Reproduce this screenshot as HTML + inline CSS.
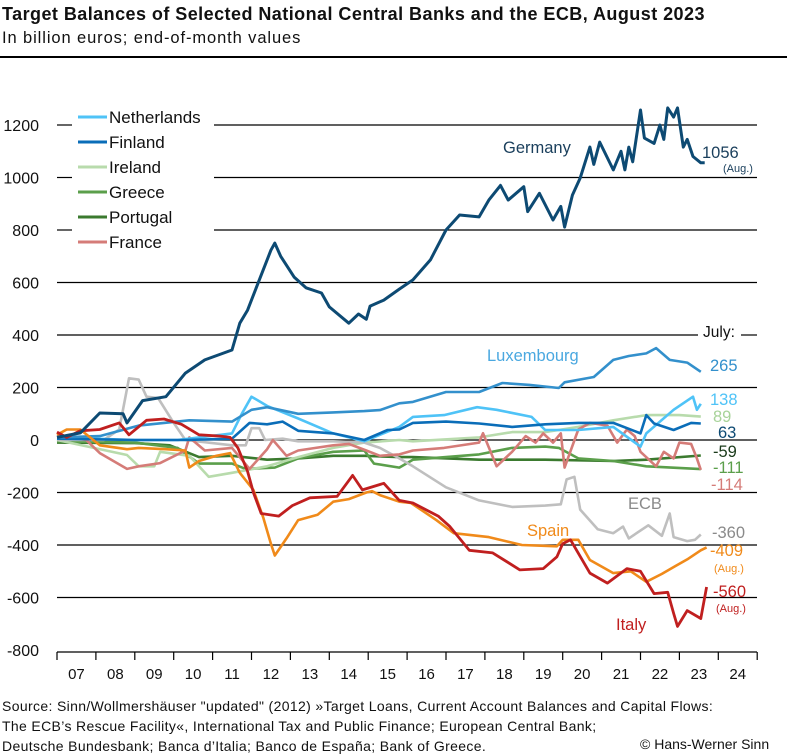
<!DOCTYPE html>
<html><head><meta charset="utf-8">
<style>
body{margin:0;background:#fff;font-family:"Liberation Sans",sans-serif;}
#wrap{position:relative;width:787px;height:756px;overflow:hidden;}
.t{position:absolute;white-space:nowrap;}
</style></head>
<body>
<div id="wrap">
<div class="t" style="left:2px;top:4px;font-size:18px;letter-spacing:0.45px;font-weight:bold;color:#111;">Target Balances of Selected National Central Banks and the ECB, August 2023</div>
<div class="t" style="left:2px;top:29px;font-size:16.5px;letter-spacing:0.9px;color:#111;">In billion euros; end-of-month values</div>
<div style="position:absolute;left:0;top:56px;width:787px;height:2px;background:#000;"></div>
<svg id="chart" width="787" height="756" style="position:absolute;left:0;top:0;" font-family="Liberation Sans, sans-serif"></svg>
<div class="t" style="left:2px;top:696px;font-size:14px;letter-spacing:0.35px;line-height:20px;color:#111;">Source: Sinn/Wollmershäuser "updated" (2012) »Target Loans, Current Account Balances and Capital Flows:<br>The ECB’s Rescue Facility«, International Tax and Public Finance; European Central Bank;<br>Deutsche Bundesbank; Banca d’Italia; Banco de España; Bank of Greece.</div>
<div class="t" style="left:640px;top:736px;font-size:14px;color:#111;">© Hans-Werner Sinn</div>
</div>
<script>
const yTicks=[1200,1000,800,600,400,200,0,-200,-400,-600,-800];
const yearLabels=["07","08","09","10","11","12","13","14","15","16","17","18","19","20","21","22","23","24"];

const germanyT=[2007.0,2007.6,2008.1,2008.7,2008.8,2009.2,2009.8,2010.3,2010.8,2011.5,2011.7,2011.9,2012.2,2012.5,2012.6,2012.75,2013.1,2013.4,2013.8,2014.0,2014.5,2014.75,2014.95,2015.05,2015.4,2015.8,2016.15,2016.6,2017.0,2017.35,2017.85,2018.1,2018.4,2018.6,2019.0,2019.1,2019.4,2019.75,2019.95,2020.05,2020.25,2020.45,2020.7,2020.8,2020.95,2021.3,2021.5,2021.6,2021.7,2021.8,2022.0,2022.1,2022.35,2022.5,2022.6,2022.7,2022.85,2022.95,2023.1,2023.2,2023.35,2023.55,2023.65];
const germanyV=[10,27,103,100,65,150,165,255,305,343,445,495,610,723,750,700,620,580,560,507,445,480,460,510,533,575,610,686,800,857,850,914,970,914,965,870,940,838,890,811,933,998,1116,1050,1135,1029,1100,1029,1116,1060,1257,1150,1130,1200,1145,1265,1230,1265,1116,1145,1080,1056,1056];

const luxT=[2007.0,2008.1,2009.1,2010.4,2011.5,2012.0,2012.4,2013.2,2014.1,2014.9,2015.3,2015.8,2016.15,2017.0,2017.85,2018.45,2019.15,2019.9,2020.05,2020.8,2021.3,2021.7,2022.15,2022.4,2022.75,2023.2,2023.55];
const luxV=[10,15,55,75,70,115,125,100,105,110,114,140,145,183,183,217,210,198,220,240,305,320,330,350,305,295,260];

const nethT=[2007.0,2009.0,2010.1,2011.5,2011.75,2012.0,2012.4,2013.2,2014.1,2014.9,2015.3,2015.8,2016.15,2016.95,2017.8,2018.3,2019.2,2019.55,2020.4,2021.3,2022.0,2022.15,2022.85,2023.35,2023.45,2023.55];
const nethV=[10,0,0,25,100,165,130,82,25,-5,20,50,88,95,125,115,88,38,38,50,-25,25,115,165,115,138];

const finT=[2007.0,2009.0,2010.3,2011.5,2011.95,2012.4,2012.8,2013.2,2014.1,2014.9,2015.5,2015.8,2016.15,2017.0,2017.85,2018.7,2019.55,2020.4,2021.3,2022.0,2022.15,2022.35,2022.85,2023.3,2023.55];
const finV=[5,0,0,5,65,60,70,35,25,0,38,40,65,70,63,50,60,65,65,25,95,63,38,65,63];

const ireT=[2007.0,2008.8,2009.1,2009.5,2009.65,2010.4,2010.9,2011.5,2012.4,2013.2,2014.1,2014.9,2015.8,2016.15,2017.85,2018.7,2019.55,2020.4,2021.3,2022.15,2023.0,2023.55];
const ireV=[0,-57,-100,-100,-45,-60,-140,-125,-100,-65,-30,-10,0,-5,10,30,30,50,75,95,95,89];

const greT=[2007.0,2009.0,2010.1,2010.65,2011.5,2011.85,2012.6,2013.2,2014.1,2014.9,2015.15,2015.8,2016.15,2017.0,2017.85,2018.7,2019.55,2019.9,2020.4,2021.3,2022.15,2023.55];
const greV=[-5,-10,-30,-90,-90,-110,-105,-70,-45,-40,-90,-105,-75,-65,-55,-30,-25,-30,-70,-80,-100,-111];

const porT=[2007.0,2009.0,2009.9,2010.65,2011.5,2012.4,2013.2,2014.1,2014.9,2015.8,2016.15,2017.85,2019.55,2021.3,2022.15,2023.55];
const porV=[-10,-12,-20,-65,-60,-75,-70,-60,-60,-65,-65,-75,-75,-80,-75,-59];

const fraT=[2007.0,2007.75,2008.1,2008.8,2009.1,2009.65,2010.3,2010.4,2010.8,2011.5,2011.95,2012.4,2012.55,2012.9,2013.2,2013.65,2014.1,2014.5,2014.95,2015.3,2015.8,2016.15,2016.95,2017.85,2017.95,2018.3,2018.7,2019.05,2019.3,2019.5,2019.75,2019.95,2020.05,2020.4,2020.7,2021.15,2021.4,2021.65,2021.85,2022.0,2022.4,2022.6,2022.85,2023.0,2023.3,2023.45,2023.55];
const fraV=[20,0,-50,-110,-100,-88,-40,10,-40,-30,-110,-35,0,-60,-40,-30,-20,-15,-40,-60,-55,-40,-30,-10,26,-100,-45,15,-10,25,-10,25,-105,40,65,55,-10,40,15,-45,-100,-45,-70,-10,-15,-70,-114];

const ecbT=[2007.0,2008.2,2008.6,2008.85,2009.1,2009.3,2009.6,2010.0,2010.3,2011.5,2011.85,2012.0,2012.2,2012.35,2012.8,2013.2,2014.1,2014.9,2015.3,2015.8,2016.15,2017.0,2017.85,2018.7,2019.55,2019.95,2020.1,2020.3,2020.45,2020.9,2021.3,2021.55,2021.7,2022.2,2022.55,2022.75,2022.85,2023.2,2023.4,2023.55];
const ecbV=[0,0,40,235,230,165,160,65,0,-20,-20,45,45,0,5,-5,-5,-10,-30,-70,-100,-180,-230,-255,-250,-245,-150,-140,-265,-340,-355,-330,-375,-325,-365,-280,-370,-385,-380,-360];

const spainT=[2007.0,2007.25,2007.6,2008.1,2008.8,2009.1,2009.8,2010.3,2010.4,2010.65,2011.1,2011.45,2011.7,2012.05,2012.3,2012.5,2012.6,2012.9,2013.2,2013.7,2014.1,2014.5,2014.95,2015.1,2015.3,2015.8,2016.1,2016.75,2017.2,2018.1,2018.95,2019.85,2020.0,2020.4,2020.7,2021.3,2021.75,2022.15,2022.55,2022.9,2023.2,2023.55,2023.7];
const spainV=[20,40,40,-20,-35,-30,-35,-40,-105,-80,-60,-50,-125,-190,-295,-395,-440,-375,-305,-285,-235,-225,-200,-195,-210,-235,-240,-305,-355,-370,-400,-405,-380,-380,-457,-507,-500,-540,-510,-480,-455,-420,-409];

const italyT=[2007.0,2007.25,2007.6,2008.1,2008.6,2008.85,2009.3,2009.75,2010.2,2010.65,2011.2,2011.45,2011.65,2011.9,2012.05,2012.25,2012.7,2013.05,2013.5,2014.2,2014.6,2014.85,2015.4,2015.8,2016.15,2016.8,2017.1,2017.6,2018.2,2018.9,2019.5,2019.85,2020.0,2020.2,2020.7,2021.15,2021.65,2022.0,2022.35,2022.7,2022.85,2022.95,2023.2,2023.55,2023.7];
const italyV=[30,10,35,40,65,20,75,80,60,20,15,10,-30,-120,-200,-280,-290,-250,-220,-215,-135,-190,-165,-230,-240,-290,-330,-420,-430,-495,-490,-445,-395,-380,-507,-545,-490,-500,-585,-580,-660,-710,-650,-680,-560];

const series=[
 {name:"portugal",t:porT,v:porV,c:"#3b7a2f",w:2.6},
 {name:"greece",t:greT,v:greV,c:"#5b9f4b",w:2.6},
 {name:"ireland",t:ireT,v:ireV,c:"#b8dbac",w:2.6},
 {name:"ecb",t:ecbT,v:ecbV,c:"#bfbfbf",w:2.6},
 {name:"france",t:fraT,v:fraV,c:"#d57c78",w:2.6},
 {name:"netherlands",t:nethT,v:nethV,c:"#4fc3f7",w:2.6},
 {name:"finland",t:finT,v:finV,c:"#0a6db8",w:2.6},
 {name:"luxembourg",t:luxT,v:luxV,c:"#3390cc",w:2.6},
 {name:"spain",t:spainT,v:spainV,c:"#f08a1a",w:2.6},
 {name:"italy",t:italyT,v:italyV,c:"#c01f1f",w:2.8},
 {name:"germany",t:germanyT,v:germanyV,c:"#0d4a73",w:3}
];

const NS="http://www.w3.org/2000/svg";
const svg=document.getElementById('chart');
const X0=57,YW=38.9;
function xS(t){return X0+(t-2007)*YW;}
function yS(v){return 440-v*0.2625;}
function mk(tag,attrs,parent){const e=document.createElementNS(NS,tag);for(const k in attrs)e.setAttribute(k,attrs[k]);(parent||svg).appendChild(e);return e;}

yTicks.forEach(v=>{
  const y=yS(v);
  let segs=[[X0,757]];
  if(v>=800) segs=[[X0,72],[214,757]];
  if(v===400) segs=[[X0,698],[741,757]];
  if(v===-800) segs=[];
  segs.forEach(s=>{
    const l=mk('line',{x1:s[0],x2:s[1],y1:y,y2:y,stroke:'#000','stroke-width':1.2});
    
    
  });
  const tx=mk('text',{x:39,y:y+6,'text-anchor':'end','font-size':16,fill:'#111'});
  tx.textContent=v;
  
  
});
const ax=mk('line',{x1:X0,x2:757,y1:652,y2:652,stroke:'#000','stroke-width':1.2});


for(let i=0;i<=yearLabels.length;i++){
  const tk=mk('line',{x1:xS(2007+i),x2:xS(2007+i),y1:652,y2:660,stroke:'#000','stroke-width':1.2});
  
  
}
yearLabels.forEach((lab,i)=>{
  const tx=mk('text',{x:xS(2007.5+i),y:679,'text-anchor':'middle','font-size':15,fill:'#111'});
  tx.textContent=lab;
  
  
});
series.forEach(s=>{
  const pts=s.t.map((t,i)=>xS(t).toFixed(1)+','+yS(s.v[i]).toFixed(1)).join(' ');
  const p=mk('polyline',{points:pts,fill:'none',stroke:s.c,'stroke-width':s.w,'stroke-linejoin':'round'});
  
  
});
const legend=[["Netherlands","#4fc3f7"],["Finland","#0a6db8"],["Ireland","#b8dbac"],["Greece","#5b9f4b"],["Portugal","#3b7a2f"],["France","#d57c78"]];
legend.forEach((e,i)=>{
  const y=117+i*25;
  const l=mk('line',{x1:78,x2:107,y1:y,y2:y,stroke:e[1],'stroke-width':3});
  
  
  const tx=mk('text',{x:109,y:y+6,'font-size':17,fill:'#111'});
  tx.textContent=e[0];
  
  
});
const ann=[
 ["Germany",503,153,16.5,"#1a3f5c","start","label-germany"],
 ["1056",702,158,16.5,"#1a3f5c","start","value-germany"],
 ["(Aug.)",723,172,11,"#1a3f5c","start","note-germany"],
 ["July:",703,337,15.5,"#111","start","july-label"],
 ["Luxembourg",487,361,16.5,"#4aa8e0","start","label-luxembourg"],
 ["265",710,371,16.5,"#3390cc","start","value-luxembourg"],
 ["138",710,405,16.5,"#4fc3f7","start","value-netherlands"],
 ["89",713,422,16.5,"#a8d39a","start","value-ireland"],
 ["63",718,438,16.5,"#0d4a73","start","value-finland"],
 ["-59",713,457,16.5,"#1a3a1a","start","value-portugal"],
 ["-111",713,473,16.5,"#5b9f4b","start","value-greece"],
 ["-114",711,490,16.5,"#d57c78","start","value-france"],
 ["ECB",628,509,16.5,"#8a8a8a","start","label-ecb"],
 ["-360",712,538,16.5,"#8a8a8a","start","value-ecb"],
 ["Spain",527,536,16.5,"#f08a1a","start","label-spain"],
 ["-409",710,556,16.5,"#f08a1a","start","value-spain"],
 ["(Aug.)",714,572,11,"#f08a1a","start","note-spain"],
 ["-560",713,597,16.5,"#c01f1f","start","value-italy"],
 ["(Aug.)",716,612,11,"#c01f1f","start","note-italy"],
 ["Italy",616,630,16.5,"#c01f1f","start","label-italy"]
];
ann.forEach(a=>{
  const tx=mk('text',{x:a[1],y:a[2],'font-size':a[3],fill:a[4],'text-anchor':a[5]});
  tx.textContent=a[0];
  
  
});
</script>
</body></html>
